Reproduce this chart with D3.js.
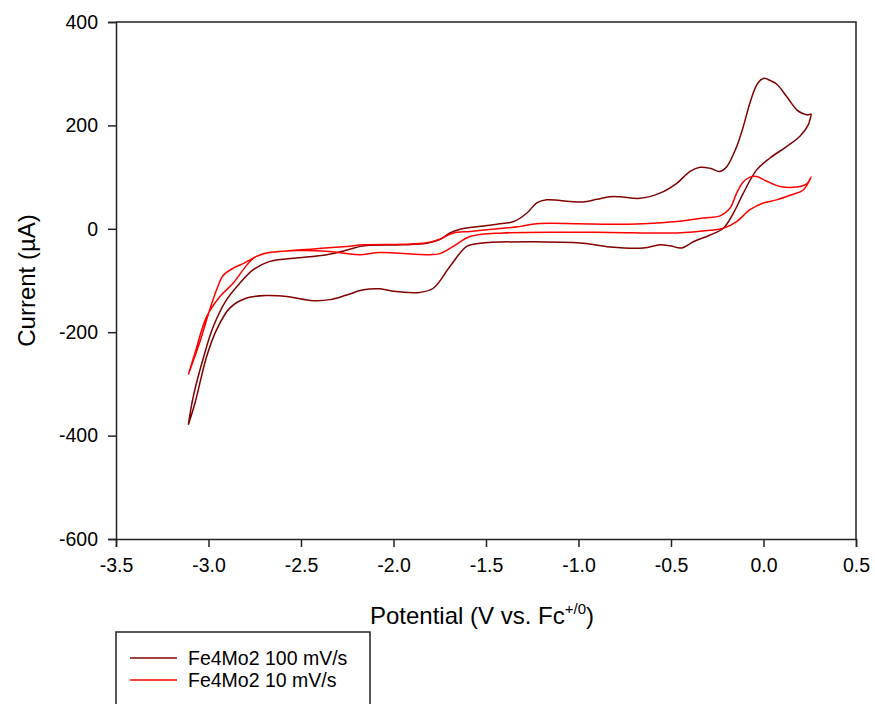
<!DOCTYPE html>
<html>
<head>
<meta charset="utf-8">
<script src="https://cdnjs.cloudflare.com/ajax/libs/d3/7.8.5/d3.min.js"></script>
<style>
body{margin:0;background:#fff;}
text{font-family:"Liberation Sans",Arial,sans-serif;fill:#000;}
</style>
</head>
<body>
<script>
// potential (V vs Fc+/0) and current (uA), one closed loop per scan rate
var fastE=[-3.109,-3.082,-3.028,-2.974,-2.902,-2.830,-2.758,-2.668,-2.540,-2.360,-2.250,-2.180,-2.130,-1.950,-1.820,-1.750,-1.695,-1.640,-1.550,-1.440,-1.350,-1.280,-1.226,-1.172,-1.046,-0.976,-0.900,-0.830,-0.776,-0.668,-0.560,-0.469,-0.397,-0.343,-0.289,-0.235,-0.199,-0.145,-0.109,-0.073,-0.040,-0.015,0.005,0.035,0.071,0.125,0.180,0.206,0.240,0.257,
  0.250,0.242,0.197,0.125,0.035,-0.037,-0.109,-0.163,-0.217,-0.289,-0.379,-0.442,-0.505,-0.559,-0.650,-0.830,-0.974,-1.262,-1.532,-1.604,-1.695,-1.785,-1.857,-2.000,-2.073,-2.163,-2.253,-2.343,-2.434,-2.577,-2.685,-2.794,-2.884,-2.956,-3.010,-3.073,-3.109];
var fastI=[-379,-324,-250,-189,-137,-105,-79,-63,-57,-50,-41,-34,-32,-31,-28,-21,-8,-1,4,9,14,30,50,56,53,52,57,62,62,59,69,88,111,119,117,111,120,159,198,244,276,288,291,287,280,256,230,224,220,222,
  210,201,179,159,137,114,69,30,1,-12,-25,-37,-33,-31,-37,-35,-28,-25,-28,-34,-73,-115,-123,-121,-116,-118,-128,-137,-139,-131,-129,-134,-153,-195,-247,-337,-379];

var slowE=[-3.109,-3.046,-2.992,-2.950,-2.920,-2.866,-2.810,-2.776,-2.704,-2.614,-2.434,-2.253,-2.163,-1.950,-1.820,-1.750,-1.677,-1.586,-1.407,-1.316,-1.226,-1.000,-0.830,-0.650,-0.469,-0.325,-0.235,-0.181,-0.145,-0.109,-0.073,-0.037,0.017,0.089,0.179,0.233,0.257,
  0.215,0.152,0.071,-0.001,-0.073,-0.145,-0.217,-0.289,-0.469,-0.830,-1.046,-1.407,-1.586,-1.677,-1.750,-1.803,-2.073,-2.181,-2.253,-2.343,-2.523,-2.685,-2.758,-2.812,-2.866,-2.938,-3.010,-3.073,-3.109];
var slowI=[-282,-218,-155,-112,-90,-76,-67,-60,-48,-44,-39,-34,-31,-30,-27,-20,-8,-5,1,4.5,10,10,9,10,14,21,25,40,69,91,100,101,92,82,81,87,100,
  75,66,56,50,37,14,1,-3,-8,-7,-6.5,-8,-15,-34,-48,-50,-46,-50,-48,-44,-42,-47,-57,-79,-105,-131,-170,-240,-282];

var seriesNames=["Fe4Mo2 100 mV/s","Fe4Mo2 10 mV/s"];
var seriesColors=["#800000","#ff0000"];
var xTicks=[-3.5,-3.0,-2.5,-2.0,-1.5,-1.0,-0.5,0.0,0.5];
var yTicks=[-600,-400,-200,0,200,400];

var drawGraph=function(w,h)
{
  var svg=d3.select("body").append("svg")
            .attr("width",w)
            .attr("height",h);
  var margins=
  {
    top:22,
    left:116,
    right:19,
    bottom:165
  };
  var width=w-margins.left-margins.right;
  var height=h-margins.top-margins.bottom;

  var xScale=d3.scaleLinear()
               .domain([-3.5,0.5])
               .range([0,width]);
  var yScale=d3.scaleLinear()
               .domain([-600,400])
               .range([height,0]);

  var plotLand=svg.append("g")
                  .classed("plot",true)
                  .attr("transform","translate("+margins.left+","+margins.top+")");

  var loops=[
    {name:seriesNames[0],color:seriesColors[0],pts:d3.zip(fastE,fastI)},
    {name:seriesNames[1],color:seriesColors[1],pts:d3.zip(slowE,slowI)}
  ];

  var line=d3.line()
             .x(function(d){return xScale(d[0]);})
             .y(function(d){return yScale(d[1]);})
             .curve(d3.curveCatmullRom.alpha(0.5));

  plotLand.selectAll("path.cv")
          .data(loops)
          .enter()
          .append("path")
          .classed("cv",true)
          .attr("d",function(d){return line(d.pts);})
          .attr("fill","none")
          .attr("stroke",function(d){return d.color;})
          .attr("stroke-width",1.5);

  // frame top and right
  plotLand.append("path")
          .attr("d","M0,0H"+width+"V"+height)
          .attr("fill","none")
          .attr("stroke","#222")
          .attr("stroke-width",1.5);

  var xAxis=d3.axisBottom(xScale)
              .tickValues(xTicks)
              .tickFormat(function(d){return d.toFixed(1);})
              .tickSizeOuter(0)
              .tickSize(8)
              .tickPadding(11);
  var yAxis=d3.axisLeft(yScale)
              .tickValues(yTicks)
              .tickFormat(function(d){return String(d);})
              .tickSizeOuter(0)
              .tickSize(8)
              .tickPadding(10);

  var gx=plotLand.append("g").classed("xAxis",true)
                 .attr("transform","translate(0,"+height+")")
                 .call(xAxis);
  var gy=plotLand.append("g").classed("yAxis",true)
                 .call(yAxis);
  [gx,gy].forEach(function(g){
    g.selectAll("path,line").attr("stroke","#222").attr("stroke-width",1.5);
    g.selectAll("text").style("font-size","19.5px").attr("fill","#000");
  });

  // labels
  var xl=svg.append("text")
            .attr("x",margins.left+width/2-4)
            .attr("y",624)
            .attr("text-anchor","middle")
            .style("font-size","24px");
  xl.append("tspan").text("Potential (V vs. Fc");
  xl.append("tspan").attr("dy",-10).style("font-size","15px").text("+/0");
  xl.append("tspan").attr("dy",10).text(")");

  svg.append("text")
     .attr("transform","translate(35,"+(margins.top+height/2)+") rotate(-90)")
     .attr("text-anchor","middle")
     .style("font-size","24px")
     .text("Current (\u00b5A)");

  // legend
  var legend=svg.append("g")
                .classed("legend",true)
                .attr("transform","translate(116,632)");
  legend.append("rect")
        .attr("x",0)
        .attr("y",0)
        .attr("width",254)
        .attr("height",100)
        .attr("fill","#fff")
        .attr("stroke","#222")
        .attr("stroke-width",1.5);
  var legendLines=legend.selectAll("g")
                        .data(loops)
                        .enter()
                        .append("g")
                        .attr("transform",function(d,i){return "translate(0,"+(26+i*22)+")";});
  legendLines.append("line")
             .attr("x1",14)
             .attr("x2",61)
             .attr("y1",0)
             .attr("y2",0)
             .attr("stroke",function(d){return d.color;})
             .attr("stroke-width",1.5);
  legendLines.append("text")
             .attr("x",72)
             .attr("y",7)
             .style("font-size","19.5px")
             .text(function(d){return d.name;});
};

drawGraph(875,704);
</script>
</body>
</html>
